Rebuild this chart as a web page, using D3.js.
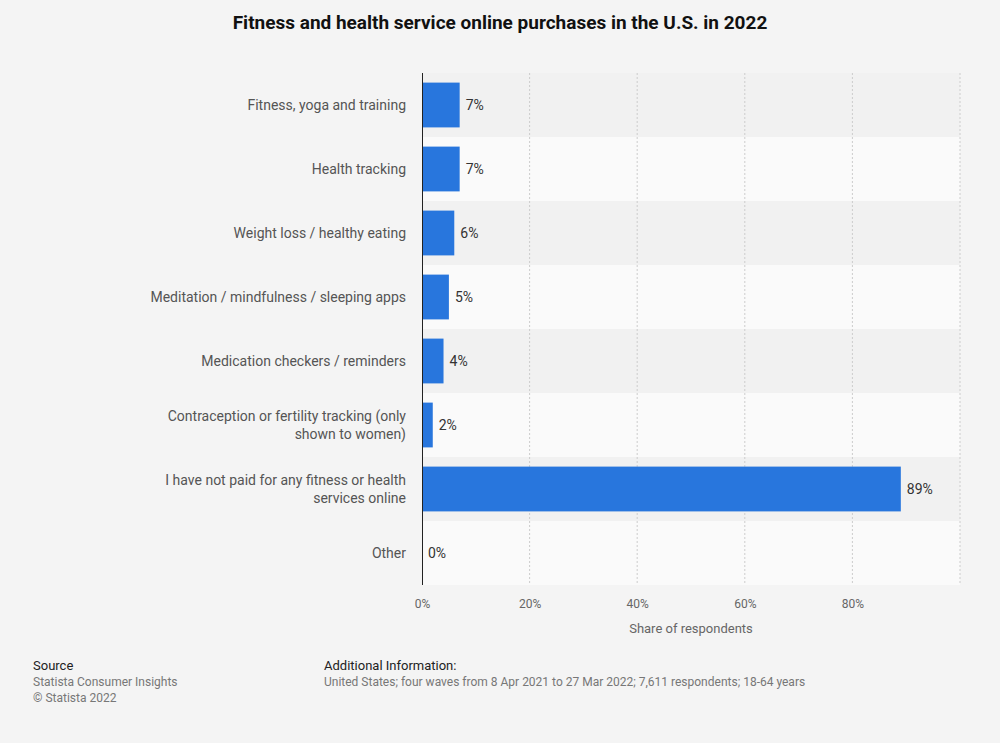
<!DOCTYPE html>
<html><head><meta charset="utf-8">
<script src="https://cdn.jsdelivr.net/npm/d3@7"></script>
<style>body{margin:0;background:#f4f4f4;font-family:Roboto,Arial,sans-serif}</style>
</head><body><div id="chart"></div>
<script>
const categories = ["Fitness, yoga and training", "Health tracking", "Weight loss / healthy eating",
  "Meditation / mindfulness / sleeping apps", "Medication checkers / reminders",
  "Contraception or fertility tracking (only shown to women)",
  "I have not paid for any fitness or health services online", "Other"];
const values = [7, 7, 6, 5, 4, 2, 89, 0];
const ticks = [0, 20, 40, 60, 80, 100];

const width = 1000, height = 743;
const svg = d3.select("#chart").append("svg").attr("width", width).attr("height", height);

const x = d3.scaleLinear().domain([0, 100]).range([422, 960]);
const y = d3.scaleBand().domain(categories).range([73, 585]).paddingInner(0.3).paddingOuter(0.15);
const step = y.step();

// row bands
svg.selectAll(".band").data(categories).enter().append("rect")
  .attr("x", 422).attr("width", 538)
  .attr("y", d => y(d) - y.paddingOuter() * step).attr("height", step)
  .attr("fill", (d, i) => i % 2 ? "#fafafa" : "#f1f1f1");

// grid
svg.selectAll(".grid").data(ticks.slice(1)).enter().append("line")
  .attr("x1", d => x(d)).attr("x2", d => x(d)).attr("y1", 73).attr("y2", 585)
  .attr("stroke", "#ccc").attr("stroke-dasharray", "2,2");

svg.selectAll(".bar").data(values).enter().append("rect")
  .attr("x", x(0)).attr("y", (d, i) => y(categories[i]))
  .attr("width", d => x(d) - x(0)).attr("height", y.bandwidth())
  .attr("fill", "#2876dd");

svg.append("line").attr("x1", 422.5).attr("x2", 422.5).attr("y1", 73).attr("y2", 585).attr("stroke", "#222");

svg.selectAll(".val").data(values).enter().append("text")
  .attr("x", d => x(d) + 6).attr("y", (d, i) => y(categories[i]) + y.bandwidth() / 2 + 5)
  .attr("font-size", 14).attr("fill", "#333").text(d => d + "%");

// category labels with wrapping
categories.forEach(c => {
  const words = c.split(" ");
  const lines = []; let cur = "";
  words.forEach(w => {
    const t = cur ? cur + " " + w : w;
    if (t.length > 43 && cur) { lines.push(cur); cur = w; } else cur = t;
  });
  lines.push(cur);
  const cy = y(c) + y.bandwidth() / 2;
  lines.forEach((l, j) => {
    svg.append("text").attr("x", 406).attr("y", cy + 5 + (j - (lines.length - 1) / 2) * 18)
      .attr("text-anchor", "end").attr("font-size", 14).attr("fill", "#555").text(l);
  });
});

const axis = svg.append("g").attr("transform", "translate(0,585)")
  .call(d3.axisBottom(x).tickValues(ticks.slice(0, 5)).tickFormat(d => d + "%").tickSize(0).tickPadding(14));
axis.select(".domain").remove();
axis.selectAll("text").attr("font-size", 12).attr("fill", "#666").attr("font-family", "Roboto,Arial,sans-serif");

svg.append("text").attr("x", 691).attr("y", 633).attr("text-anchor", "middle")
  .attr("font-size", 13).attr("fill", "#666").text("Share of respondents");

svg.append("text").attr("x", 500).attr("y", 29).attr("text-anchor", "middle")
  .attr("font-size", 19).attr("font-weight", "bold").attr("fill", "#111")
  .text("Fitness and health service online purchases in the U.S. in 2022");

const foot = [[33, 670, "Source", 13, "#222"], [33, 686, "Statista Consumer Insights", 12, "#777"],
  [33, 702, "© Statista 2022", 12, "#777"], [324, 670, "Additional Information:", 13, "#222"],
  [324, 686, "United States; four waves from 8 Apr 2021 to 27 Mar 2022; 7,611 respondents; 18-64 years", 12, "#777"]];
foot.forEach(f => svg.append("text").attr("x", f[0]).attr("y", f[1]).attr("font-size", f[3]).attr("fill", f[4]).text(f[2]));
</script></body></html>
